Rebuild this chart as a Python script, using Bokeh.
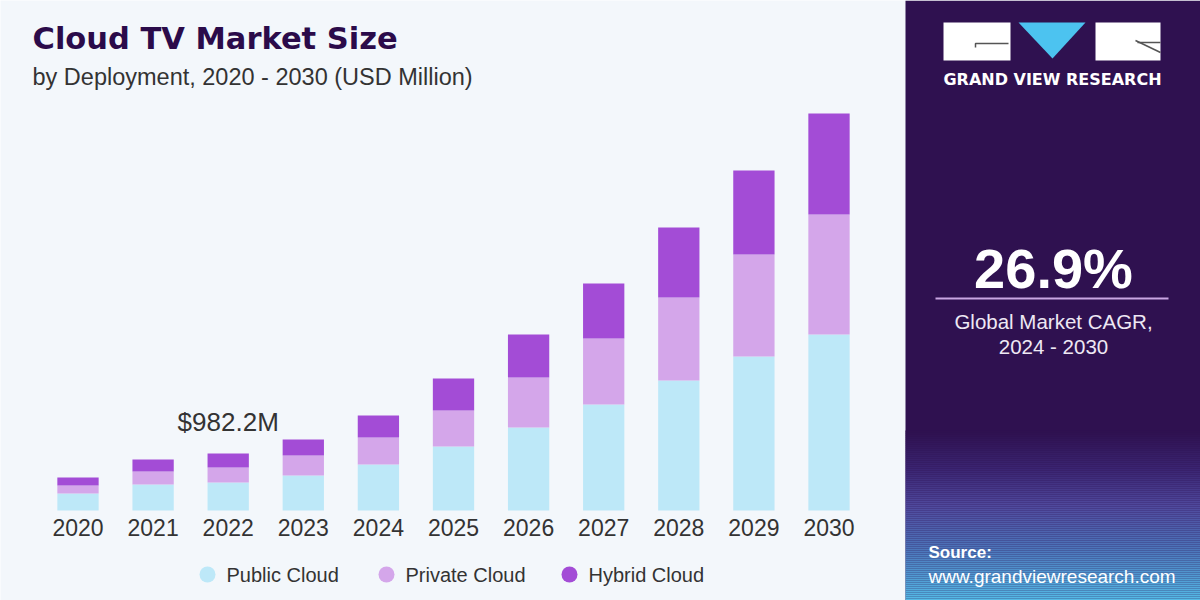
from bokeh.plotting import figure
from bokeh.models import ColumnDataSource, Range1d, Label
from bokeh.embed import file_html
from bokeh.resources import INLINE
from bokeh.core.properties import value
import numpy as np

# ---------------- data ----------------
years = ["2020", "2021", "2022", "2023", "2024", "2025", "2026", "2027", "2028", "2029", "2030"]
public_cloud = [293, 448, 482, 603, 793, 1103, 1430, 1826, 2240, 2653, 3032]
private_cloud = [138, 224, 258, 345, 465, 620, 862, 1137, 1430, 1757, 2068]
hybrid_cloud = [138, 207, 241, 276, 379, 551, 741, 948, 1206, 1447, 1740]
series_names = ["Public Cloud", "Private Cloud", "Hybrid Cloud"]
series_keys = ["public", "private", "hybrid"]
series_colors = ["#bde8f8", "#d4a6ea", "#a34cd6"]
highlight_year = "2022"
highlight_text = "$982.2M"
cagr_text = "26.9%"

TITLE = "Cloud TV Market Size"
SUBTITLE = "by Deployment, 2020 - 2030 (USD Million)"

BG = "#f3f7fb"
PANEL = "#2f1150"
FONT = "Liberation Sans"

W, H = 1200, 600
# layout (pixels): bar centres start at 77.5 and step 75.1; baseline at 510,
# 17.23 USD M per pixel
X0, DX = 77.5, 75.1
BASE, UNIT = 510, 17.23

xpos = list(range(len(years)))
src = ColumnDataSource(dict(x=xpos, year=years, public=public_cloud,
                            private=private_cloud, hybrid=hybrid_cloud))

p = figure(x_range=Range1d(-X0 / DX, (W - X0) / DX),
           y_range=Range1d(-(H - BASE) * UNIT, BASE * UNIT),
           width=W, height=H, min_border=0,
           x_axis_location=None, y_axis_location=None,
           toolbar_location=None, output_backend="svg",
           background_fill_color=BG, border_fill_color=BG,
           outline_line_color=None)
p.grid.visible = False

# pixel-like extra ranges for layout/decoration (y grows downward)
p.extra_x_ranges = {"px": Range1d(0, W)}
p.extra_y_ranges = {"py": Range1d(H, 0)}
kw = dict(x_range_name="px", y_range_name="py")

# ---------------- bars ----------------
p.vbar_stack(series_keys, x="x", width=0.55, color=series_colors,
             line_color=None, source=src)

# category (year) labels under each bar
p.text(x="x", y=0, text="year", source=src, text_align="center",
       text_baseline="middle", y_offset=17, text_font=value(FONT),
       text_font_size="23px", text_color="#333333")

# highlight value label
idx = years.index(highlight_year)
tot = public_cloud[idx] + private_cloud[idx] + hybrid_cloud[idx]
p.text(x=[idx], y=[tot], text=[highlight_text], text_align="center",
       text_baseline="middle", y_offset=-32, text_font=value(FONT),
       text_font_size="26px", text_color="#333333")

# title / subtitle
p.add_layout(Label(x=32, y=38, text=TITLE, text_font="DejaVu Sans",
                   text_font_style="bold", text_font_size="30.5px",
                   text_color="#2b0b4a", text_baseline="middle", **kw))
p.add_layout(Label(x=32, y=76, text=SUBTITLE, text_font=FONT,
                   text_font_size="23.5px", text_color="#333333",
                   text_baseline="middle", **kw))

# legend (markers + labels)
leg_x = [207, 386, 569]
leg_y = 574
p.scatter(x=leg_x, y=[leg_y] * 3, size=16, color=series_colors,
          line_color=None, **kw)
for lx, name in zip(leg_x, series_names):
    p.add_layout(Label(x=lx + 19, y=leg_y, text=name, text_font=FONT,
                       text_font_size="20px", text_color="#333333",
                       text_baseline="middle", **kw))

# ---------------- right panel ----------------
PX = 905
p.quad(left=PX, right=W, top=0, bottom=H, color=PANEL, line_color=None, **kw)

stops_y = [430, 470, 505, 545, 600]
stops_c = [(0x2f, 0x11, 0x50), (0x3c, 0x27, 0x75), (0x50, 0x4a, 0x9e),
           (0x4c, 0x72, 0xb8), (0x55, 0xbd, 0xe8)]
gy = np.arange(430, 600, 2)
gcols = []
for yv in gy:
    rgb = [int(np.interp(yv, stops_y, [c[k] for c in stops_c])) for k in range(3)]
    gcols.append("#%02x%02x%02x" % tuple(rgb))
p.quad(left=PX, right=W, top=gy, bottom=gy + 2, color=gcols, line_color=None, **kw)

# logo
p.quad(left=[PX + 38, PX + 190], right=[PX + 105, PX + 255], top=[22, 22],
       bottom=[60, 60], color="white", line_color=None, **kw)
p.patch(x=[PX + 113, PX + 180, PX + 147], y=[22, 22, 58], color="#4cc3f0",
        line_color=None, **kw)
p.line(x=[PX + 70, PX + 70, PX + 103], y=[47, 43, 43], line_color="#555555",
       line_width=1.5, **kw)
p.line(x=[PX + 230, PX + 255], y=[40, 52], line_color="#555555", line_width=1.5, **kw)
p.line(x=[PX + 232, PX + 255], y=[42, 42], line_color="#555555", line_width=1.5, **kw)
p.add_layout(Label(x=PX + 147, y=79, text="GRAND VIEW RESEARCH", text_align="center",
                   text_font="DejaVu Sans", text_font_style="bold",
                   text_font_size="16px", text_color="white",
                   text_baseline="middle", **kw))

# CAGR block
p.add_layout(Label(x=PX + 148, y=268, text=cagr_text, text_align="center",
                   text_font=FONT, text_font_style="bold",
                   text_font_size="56px", text_color="white",
                   text_baseline="middle", **kw))
p.line(x=[PX + 30, PX + 263], y=[298, 298], line_color="#c9a6e2", line_width=2, **kw)
p.add_layout(Label(x=PX + 148, y=321, text="Global Market CAGR,", text_align="center",
                   text_font=FONT, text_font_size="20.5px", text_color="#eee8f4",
                   text_baseline="middle", **kw))
p.add_layout(Label(x=PX + 148, y=346, text="2024 - 2030", text_align="center",
                   text_font=FONT, text_font_size="20.5px", text_color="#eee8f4",
                   text_baseline="middle", **kw))

# source
p.add_layout(Label(x=PX + 23, y=552, text="Source:", text_font=FONT,
                   text_font_style="bold", text_font_size="17px",
                   text_color="white", text_baseline="middle", **kw))
p.add_layout(Label(x=PX + 23, y=576, text="www.grandviewresearch.com", text_font=FONT,
                   text_font_size="19px", text_color="white",
                   text_baseline="middle", **kw))

open("out.html", "w").write(file_html(p, INLINE))
